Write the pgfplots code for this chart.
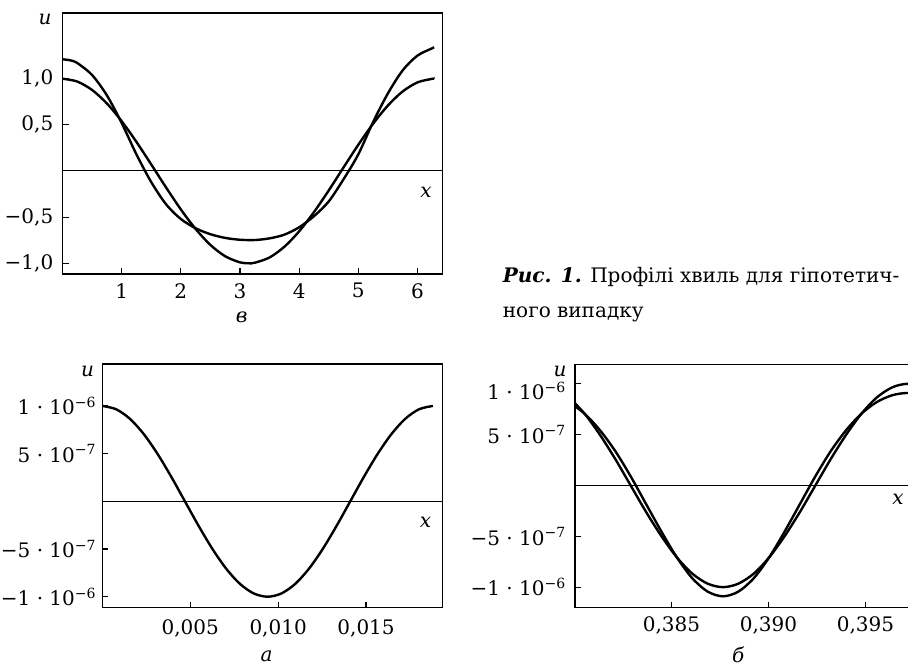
\documentclass[border=0pt]{standalone}
\usepackage{fontspec}
\setmainfont{DejaVu Serif}
\usepackage{pgfplots}
\pgfplotsset{compat=1.18}

\pgfplotsset{
  panel/.style={
    scale only axis,
    anchor=south west,
    axis line style={line width=1.2pt},
    tick pos=left,
    tick align=inside,
    major tick length=6pt,
    every tick/.style={black, line width=1.2pt},
    scaled x ticks=false,
    scaled y ticks=false,
    yticklabel style={inner sep=0pt, anchor=east, xshift=-9pt},
    xticklabel style={inner sep=0pt, anchor=north, yshift=-9pt},
  },
  wave/.style={black, line width=2.4pt, smooth},
}

\begin{document}
\fontsize{20}{24}\selectfont
\begin{tikzpicture}[x=1pt,y=1pt]
\path[use as bounding box, clip] (0,0) rectangle (908,666);

% panel в
\begin{axis}[panel,
  at={(62.5pt,392pt)}, width=379.8pt, height=261pt,
  xmin=0, xmax=6.42, ymin=-1.116, ymax=1.712,
  xtick={1,2,3,4,5,6}, xticklabels={1,2,3,4,5,6},
  ytick={-1,-0.5,0.5,1},
  yticklabels={{−1,0},{−0,5},{0,5},{1,0}},
]
\draw[line width=1pt] (axis cs:0,0) -- (axis cs:6.42,0);
\addplot[wave] coordinates {
  (0,1.000) (0.25,0.969) (0.5,0.878) (0.75,0.732) (1.0,0.540) (1.25,0.315)
  (1.5,0.071) (1.75,-0.178) (2.0,-0.416) (2.25,-0.628) (2.5,-0.801)
  (2.75,-0.924) (3.0,-0.990) (3.1416,-1.000) (3.25,-0.994) (3.5,-0.937)
  (3.75,-0.821) (4.0,-0.654) (4.25,-0.446) (4.5,-0.211) (4.75,0.038)
  (5.0,0.284) (5.25,0.512) (5.5,0.709) (5.75,0.862) (6.0,0.960)
  (6.25,0.999) (6.2832,1.000)
};
\addplot[wave] coordinates {
  (0,1.21) (0.125,1.20) (0.25,1.17) (0.5,1.04) (0.75,0.82) (1.0,0.52)
  (1.25,0.18) (1.5,-0.12) (1.75,-0.36) (2.0,-0.52) (2.25,-0.62) (2.5,-0.685)
  (2.75,-0.725) (3.0,-0.745) (3.25,-0.748) (3.5,-0.73) (3.75,-0.69)
  (4.0,-0.61) (4.25,-0.49) (4.5,-0.33) (4.75,-0.09) (5.0,0.18)
  (5.25,0.53) (5.5,0.84) (5.75,1.09) (6.0,1.25) (6.25,1.33) (6.2832,1.34)
};
\end{axis}

% panel а
\begin{axis}[panel,
  at={(102.3pt,58.3pt)}, width=340pt, height=243.7pt,
  xmin=0, xmax=0.019335, ymin=-1.115e-6, ymax=1.44e-6,
  xtick={0.005,0.01,0.015}, xticklabels={{0,005},{0,010},{0,015}},
  ytick={-1e-6,-5e-7,5e-7,1e-6},
  yticklabels={{−1 · 10\textsuperscript{−6}},{−5 · 10\textsuperscript{−7}},
               {5 · 10\textsuperscript{−7}},{1 · 10\textsuperscript{−6}}},
  yticklabel style={xshift=3pt},
  xticklabel style={yshift=-3pt},
]
\draw[line width=1pt] (axis cs:0,0) -- (axis cs:0.019335,0);
\addplot[wave] coordinates {
  (0,1.0e-6) (0.000783,0.966e-6) (0.001567,0.866e-6) (0.00235,0.707e-6)
  (0.003133,0.5e-6) (0.003917,0.259e-6) (0.0047,0) (0.005483,-0.259e-6)
  (0.006267,-0.5e-6) (0.00705,-0.707e-6) (0.007833,-0.866e-6)
  (0.008617,-0.966e-6) (0.0094,-1.0e-6) (0.010183,-0.966e-6)
  (0.010967,-0.866e-6) (0.01175,-0.707e-6) (0.012533,-0.5e-6)
  (0.013317,-0.259e-6) (0.0141,0) (0.014883,0.259e-6) (0.015667,0.5e-6)
  (0.01645,0.707e-6) (0.017233,0.866e-6) (0.018017,0.966e-6) (0.0188,1.0e-6)
};
\end{axis}

% panel б
\begin{axis}[panel,
  at={(575pt,58.3pt)}, width=355pt, height=243.4pt,
  xmin=0.38003, xmax=0.39833, ymin=-1.202e-6, ymax=1.192e-6,
  xtick={0.385,0.39,0.395}, xticklabels={{0,385},{0,390},{0,395}},
  ytick={-1e-6,-5e-7,5e-7},
  yticklabels={{−1 · 10\textsuperscript{−6}},{−5 · 10\textsuperscript{−7}},
               {5 · 10\textsuperscript{−7}}},
  extra y ticks={1e-6},
  extra y tick labels={{1 · 10\textsuperscript{−6}}},
  extra y tick style={yticklabel style={yshift=-7pt}},
]
\draw[line width=1pt] (axis cs:0.38003,0) -- (axis cs:0.39833,0);
\addplot[wave] coordinates {
  (0.37973,0.866e-6) (0.38052,0.707e-6) (0.38131,0.5e-6) (0.38211,0.259e-6)
  (0.38290,0) (0.38369,-0.259e-6) (0.38449,-0.5e-6) (0.38528,-0.707e-6)
  (0.38607,-0.866e-6) (0.38687,-0.966e-6) (0.38766,-1.0e-6)
  (0.38845,-0.966e-6) (0.38925,-0.866e-6) (0.39004,-0.707e-6)
  (0.39083,-0.5e-6) (0.39163,-0.259e-6) (0.39242,0) (0.39321,0.259e-6)
  (0.39401,0.5e-6) (0.39480,0.707e-6) (0.39559,0.866e-6) (0.39639,0.966e-6)
  (0.39718,1.0e-6) (0.39797,0.966e-6) (0.39877,0.866e-6)
};
\addplot[wave] coordinates {
  (0.37973,0.821e-6) (0.38052,0.707e-6) (0.38131,0.545e-6) (0.38211,0.337e-6)
  (0.38290,0.09e-6) (0.38369,-0.181e-6) (0.38449,-0.455e-6) (0.38528,-0.707e-6)
  (0.38607,-0.911e-6) (0.38687,-1.044e-6) (0.38766,-1.09e-6)
  (0.38845,-1.044e-6) (0.38925,-0.911e-6) (0.39004,-0.707e-6)
  (0.39083,-0.455e-6) (0.39163,-0.181e-6) (0.39242,0.09e-6) (0.39321,0.337e-6)
  (0.39401,0.545e-6) (0.39480,0.707e-6) (0.39559,0.821e-6) (0.39639,0.888e-6)
  (0.39718,0.91e-6) (0.39797,0.888e-6) (0.39877,0.821e-6)
};
\end{axis}

% axis names and panel letters
\node[anchor=base, inner sep=0pt] at (45,641) {\textit{u}};
\node[anchor=base, inner sep=0pt] at (426,468) {\textit{x}};
\node[anchor=base, inner sep=0pt] at (241.7,343) {\textit{в}};
\node[anchor=base, inner sep=0pt] at (87.5,289) {\textit{u}};
\node[anchor=base, inner sep=0pt] at (425.5,138) {\textit{x}};
\node[anchor=base, inner sep=0pt] at (266.7,4) {\textit{а}};
\node[anchor=base, inner sep=0pt] at (560,289) {\textit{u}};
\node[anchor=base, inner sep=0pt] at (898,161) {\textit{x}};
\node[anchor=base, inner sep=0pt] at (738.3,3) {\textit{б}};

% caption
\node[anchor=base west, inner sep=0pt] at (502.7,383)
  {\textbf{\textit{Рис. 1.}} Профілі хвиль для гіпотетич-};
\node[anchor=base west, inner sep=0pt] at (502.7,348) {ного випадку};
\end{tikzpicture}
\end{document}
